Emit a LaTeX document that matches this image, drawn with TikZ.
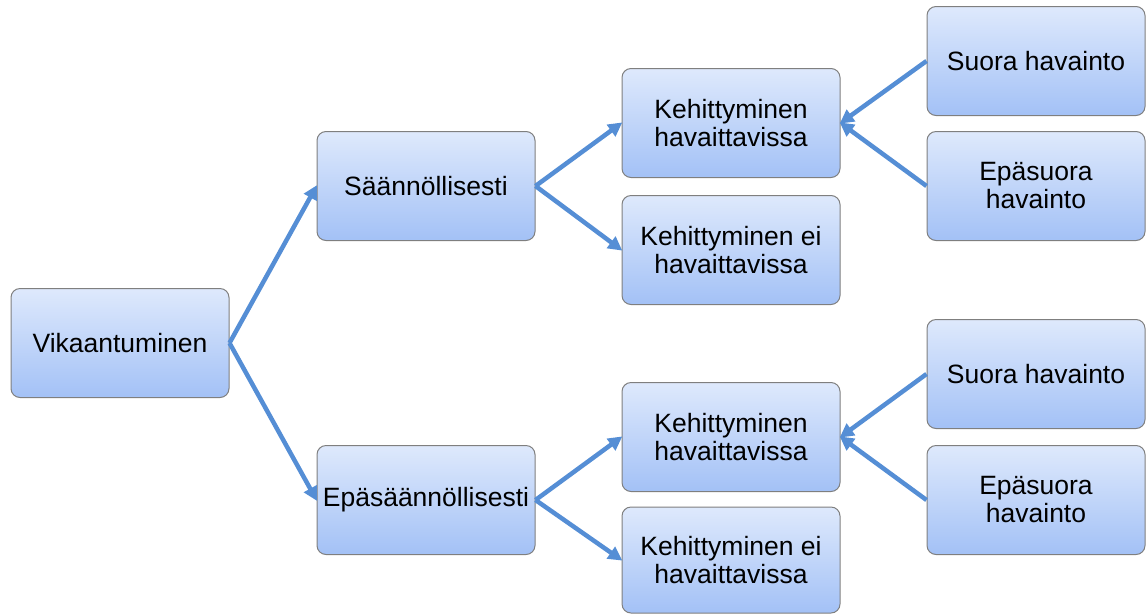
\documentclass[tikz,border=0pt]{standalone}
\usepackage{fontspec}
\setmainfont{Liberation Sans}
\usetikzlibrary{arrows.meta}
\definecolor{boxtop}{HTML}{DEE9FC}
\definecolor{boxbot}{HTML}{A3C1F6}
\definecolor{boxline}{HTML}{7F7F7F}
\definecolor{link}{HTML}{558ED5}
\begin{document}
\begin{tikzpicture}[x=1pt,y=-1pt,
  box/.style={draw=boxline, line width=1pt, rounded corners=9pt,
    top color=boxtop, bottom color=boxbot,
    minimum width=218pt, minimum height=109pt, inner sep=2pt,
    align=center, font=\fontsize{26.5}{28}\selectfont},
  link/.style={draw=link, line width=4.5pt,
    -{Triangle[length=14pt,width=14pt]}, shorten >=-1pt}]
\useasboundingbox (0,0) rectangle (1147,614);
% root
\node[box] (root) at (120,343) {Vikaantuminen};
% second level
\node[box] (reg) at (426,186) {Säännöllisesti};
\node[box] (irr) at (426,500) {Epäsäännöllisesti};
% third level, upper branch
\node[box] (devA) at (731,123) {Kehittyminen\\havaittavissa};
\node[box] (nodevA) at (731,250) {Kehittyminen ei\\havaittavissa};
% third level, lower branch
\node[box] (devB) at (731,437) {Kehittyminen\\havaittavissa};
\node[box, minimum height=106pt] (nodevB) at (731,560) {Kehittyminen ei\\havaittavissa};
% observation boxes
\node[box] (dirA) at (1036,61) {Suora havainto};
\node[box] (indA) at (1036,186) {Epäsuora\\havainto};
\node[box] (dirB) at (1036,374) {Suora havainto};
\node[box] (indB) at (1036,500) {Epäsuora\\havainto};
% connectors
\draw[link] (root.east) -- (reg.west);
\draw[link] (root.east) -- (irr.west);
\draw[link] (reg.east) -- (devA.west);
\draw[link] (reg.east) -- (nodevA.west);
\draw[link] (irr.east) -- (devB.west);
\draw[link] (irr.east) -- (nodevB.west);
\draw[link] (dirA.west) -- (devA.east);
\draw[link] (indA.west) -- (devA.east);
\draw[link] (dirB.west) -- (devB.east);
\draw[link] (indB.west) -- (devB.east);
\end{tikzpicture}
\end{document}
